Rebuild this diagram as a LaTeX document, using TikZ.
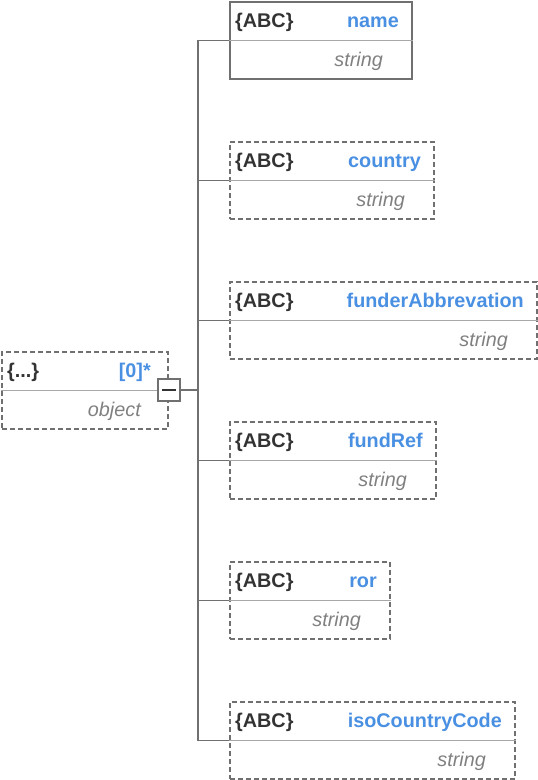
\documentclass[tikz,border=0pt]{standalone}
\usepackage{fontspec}
\setmainfont{Liberation Sans}
\definecolor{bordercol}{HTML}{707070}
\definecolor{divcol}{HTML}{A8A8A8}
\definecolor{darktxt}{HTML}{333333}
\definecolor{bluetxt}{HTML}{4A90E2}
\definecolor{greytxt}{HTML}{808080}
\tikzset{
  fieldbox/.style={draw=bordercol, line width=2pt, rectangle, anchor=north west, inner sep=0pt, minimum height=77pt},
  optbox/.style={fieldbox, dash pattern=on 5pt off 3pt},
  divline/.style={draw=divcol, line width=1.8pt},
  conn/.style={draw=bordercol, line width=1.8pt},
  typetxt/.style={font=\fontsize{19.8}{22}\selectfont\bfseries, text=darktxt, anchor=base west, inner sep=0pt},
  nametxt/.style={font=\fontsize{19.8}{22}\selectfont\bfseries, text=bluetxt, anchor=base east, inner sep=0pt},
  kindtxt/.style={font=\fontsize{19.8}{22}\selectfont\itshape, text=greytxt, anchor=base east, inner sep=0pt},
}
\begin{document}
\begin{tikzpicture}[x=1pt,y=-1pt]
\useasboundingbox (0,0) rectangle (538,780);
% root object
\node[optbox, minimum width=166pt] (root) at (1,351) {};
\draw[divline] (root.west) -- (root.east);
\node[typetxt] (roott) at ([xshift=6pt,yshift=-26pt]root.north west) {\{...\}};
\node[nametxt] (rootn) at ([xshift=-18pt,yshift=-26pt]root.north east) {[0]*};
\node[kindtxt] (rootk) at ([xshift=-28pt,yshift=-65.5pt]root.north east) {object};
\node[draw=bordercol, line width=2pt, fill=white, minimum size=22pt, inner sep=0pt] (minus) at (169,390) {};
\draw[draw=darktxt, line width=1.6pt] ([xshift=-7pt]minus.center) -- ([xshift=7pt]minus.center);
\draw[conn] (minus.east) -- (198,390) coordinate (spine);
% fields
\foreach \i/\nm/\w/\st in {1/name/182/fieldbox, 2/country/204/optbox, 3/funderAbbrevation/307/optbox, 4/fundRef/206/optbox, 5/ror/160/optbox, 6/isoCountryCode/285/optbox}{
  \node[\st, minimum width=\w pt] (b\i) at (229,{1+140*(\i-1)}) {};
  \draw[divline] (b\i.west) -- (b\i.east);
  \node[typetxt] (t\i) at ([xshift=6pt,yshift=-26pt]b\i.north west) {\{ABC\}};
  \node[nametxt] (n\i) at ([xshift=-14pt,yshift=-26pt]b\i.north east) {\nm};
  \node[kindtxt] (k\i) at ([xshift=-30pt,yshift=-65.5pt]b\i.north east) {string};
  \draw[conn] (spine) |- (b\i.west);
}
\end{tikzpicture}
\end{document}
